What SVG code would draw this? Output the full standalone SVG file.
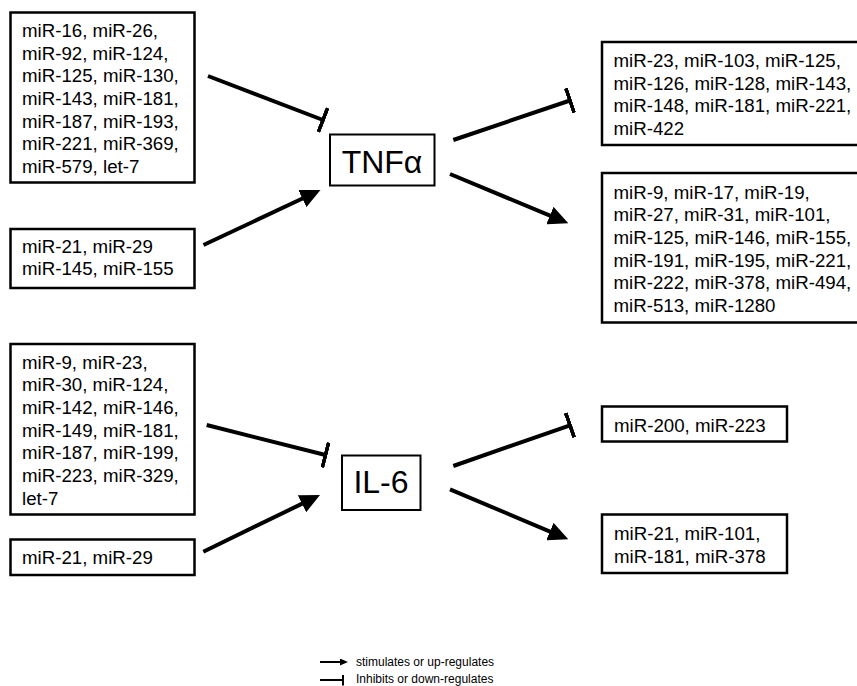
<svg xmlns="http://www.w3.org/2000/svg" width="857" height="686" viewBox="0 0 857 686">
<defs>
<style>
.box{fill:#fff;stroke:#000;stroke-width:2.5}
.hub{fill:#fff;stroke:#000;stroke-width:2}
.t{font-family:"Liberation Sans",Arial,sans-serif;font-size:18.7px;fill:#000}
.h{font-family:"Liberation Sans",Arial,sans-serif;font-size:32px;fill:#000;text-anchor:middle}
.lg{font-family:"Liberation Sans",Arial,sans-serif;font-size:12px;fill:#000}
.c{stroke:#000;stroke-width:4;fill:none}
.cs{stroke:#000;stroke-width:2;fill:none}
.act{marker-end:url(#arr)}
.inh{marker-end:url(#bar)}
</style>
<marker id="arr" markerUnits="userSpaceOnUse" viewBox="0 0 20 19" markerWidth="20" markerHeight="19" refX="6" refY="9.5" orient="auto"><path d="M0,0 L20,9.5 L0,19 z" fill="#000"/></marker>
<marker id="bar" markerUnits="userSpaceOnUse" viewBox="0 0 4 26" markerWidth="4" markerHeight="26" refX="2" refY="13" orient="auto"><rect width="4" height="26" fill="#000"/></marker>
<marker id="arrS" markerUnits="userSpaceOnUse" viewBox="0 0 8 7" markerWidth="8" markerHeight="7" refX="2" refY="3.5" orient="auto"><path d="M0,0 L8,3.5 L0,7 z" fill="#000"/></marker>
<marker id="barS" markerUnits="userSpaceOnUse" viewBox="0 0 2 11" markerWidth="2" markerHeight="11" refX="1" refY="5.5" orient="auto"><rect width="2" height="11" fill="#000"/></marker>
</defs>
<rect width="857" height="686" fill="#fff"/>

<g id="connectors">
<line class="c inh" x1="208" y1="76" x2="323" y2="120"/>
<line class="c act" x1="203.5" y1="245" x2="307.8" y2="196"/>
<line class="c inh" x1="453.3" y1="140" x2="570" y2="100.5"/>
<line class="c act" x1="450" y1="174" x2="555.4" y2="217.9"/>
<line class="c inh" x1="206.7" y1="425" x2="325.5" y2="455"/>
<line class="c act" x1="203.3" y1="551.7" x2="307.4" y2="501.1"/>
<line class="c inh" x1="453.3" y1="466" x2="570" y2="425.3"/>
<line class="c act" x1="450" y1="489.3" x2="555.4" y2="533.9"/>
</g>

<g id="tnf-inhibitors">
<rect class="box" x="10.5" y="12.5" width="184" height="170"/>
<text class="t" x="22" y="37">miR-16, miR-26,</text>
<text class="t" x="22" y="59.7">miR-92, miR-124,</text>
<text class="t" x="22" y="82.3">miR-125, miR-130,</text>
<text class="t" x="22" y="105">miR-143, miR-181,</text>
<text class="t" x="22" y="127.7">miR-187, miR-193,</text>
<text class="t" x="22" y="150.3">miR-221, miR-369,</text>
<text class="t" x="22" y="173">miR-579, let-7</text>
</g>

<g id="tnf-activators">
<rect class="box" x="10.5" y="229" width="184" height="59"/>
<text class="t" x="22" y="252.5">miR-21, miR-29</text>
<text class="t" x="22" y="275.2">miR-145, miR-155</text>
</g>

<g id="tnf">
<rect class="hub" x="330" y="134.5" width="104.5" height="51"/>
<text class="h" x="382" y="173">TNFα</text>
</g>

<g id="tnf-inhibited">
<path class="box" d="M860,42 H602 V145 H860"/>
<text class="t" x="613.5" y="67">miR-23, miR-103, miR-125,</text>
<text class="t" x="613.5" y="89.7">miR-126, miR-128, miR-143,</text>
<text class="t" x="613.5" y="112.3">miR-148, miR-181, miR-221,</text>
<text class="t" x="613.5" y="135">miR-422</text>
</g>

<g id="tnf-induced">
<path class="box" d="M860,173 H602 V322.5 H860"/>
<text class="t" x="613.5" y="198.5">miR-9, miR-17, miR-19,</text>
<text class="t" x="613.5" y="221.2">miR-27, miR-31, miR-101,</text>
<text class="t" x="613.5" y="243.8">miR-125, miR-146, miR-155,</text>
<text class="t" x="613.5" y="266.5">miR-191, miR-195, miR-221,</text>
<text class="t" x="613.5" y="289.2">miR-222, miR-378, miR-494,</text>
<text class="t" x="613.5" y="311.8">miR-513, miR-1280</text>
</g>

<g id="il6-inhibitors">
<rect class="box" x="10.5" y="344" width="184" height="170.5"/>
<text class="t" x="22" y="368.5">miR-9, miR-23,</text>
<text class="t" x="22" y="391.2">miR-30, miR-124,</text>
<text class="t" x="22" y="413.8">miR-142, miR-146,</text>
<text class="t" x="22" y="436.5">miR-149, miR-181,</text>
<text class="t" x="22" y="459.2">miR-187, miR-199,</text>
<text class="t" x="22" y="481.8">miR-223, miR-329,</text>
<text class="t" x="22" y="504.5">let-7</text>
</g>

<g id="il6-activators">
<rect class="box" x="10.5" y="539.5" width="184" height="35.5"/>
<text class="t" x="22" y="564">miR-21, miR-29</text>
</g>

<g id="il6">
<rect class="hub" x="342" y="455.5" width="78.5" height="54.5"/>
<text class="h" x="381" y="493">IL-6</text>
</g>

<g id="il6-inhibited">
<rect class="box" x="602" y="406.5" width="185" height="35"/>
<text class="t" x="614" y="432">miR-200, miR-223</text>
</g>

<g id="il6-induced">
<rect class="box" x="602" y="514.5" width="185" height="58.5"/>
<text class="t" x="614" y="539.5">miR-21, miR-101,</text>
<text class="t" x="614" y="562.5">miR-181, miR-378</text>
</g>

<g id="legend">
<line class="cs" x1="320" y1="662" x2="342" y2="662" marker-end="url(#arrS)"/>
<text class="lg" x="356" y="666">stimulates or up-regulates</text>
<line class="cs" x1="320" y1="680" x2="343" y2="680" marker-end="url(#barS)"/>
<text class="lg" x="356" y="683">Inhibits or down-regulates</text>
</g>
</svg>
